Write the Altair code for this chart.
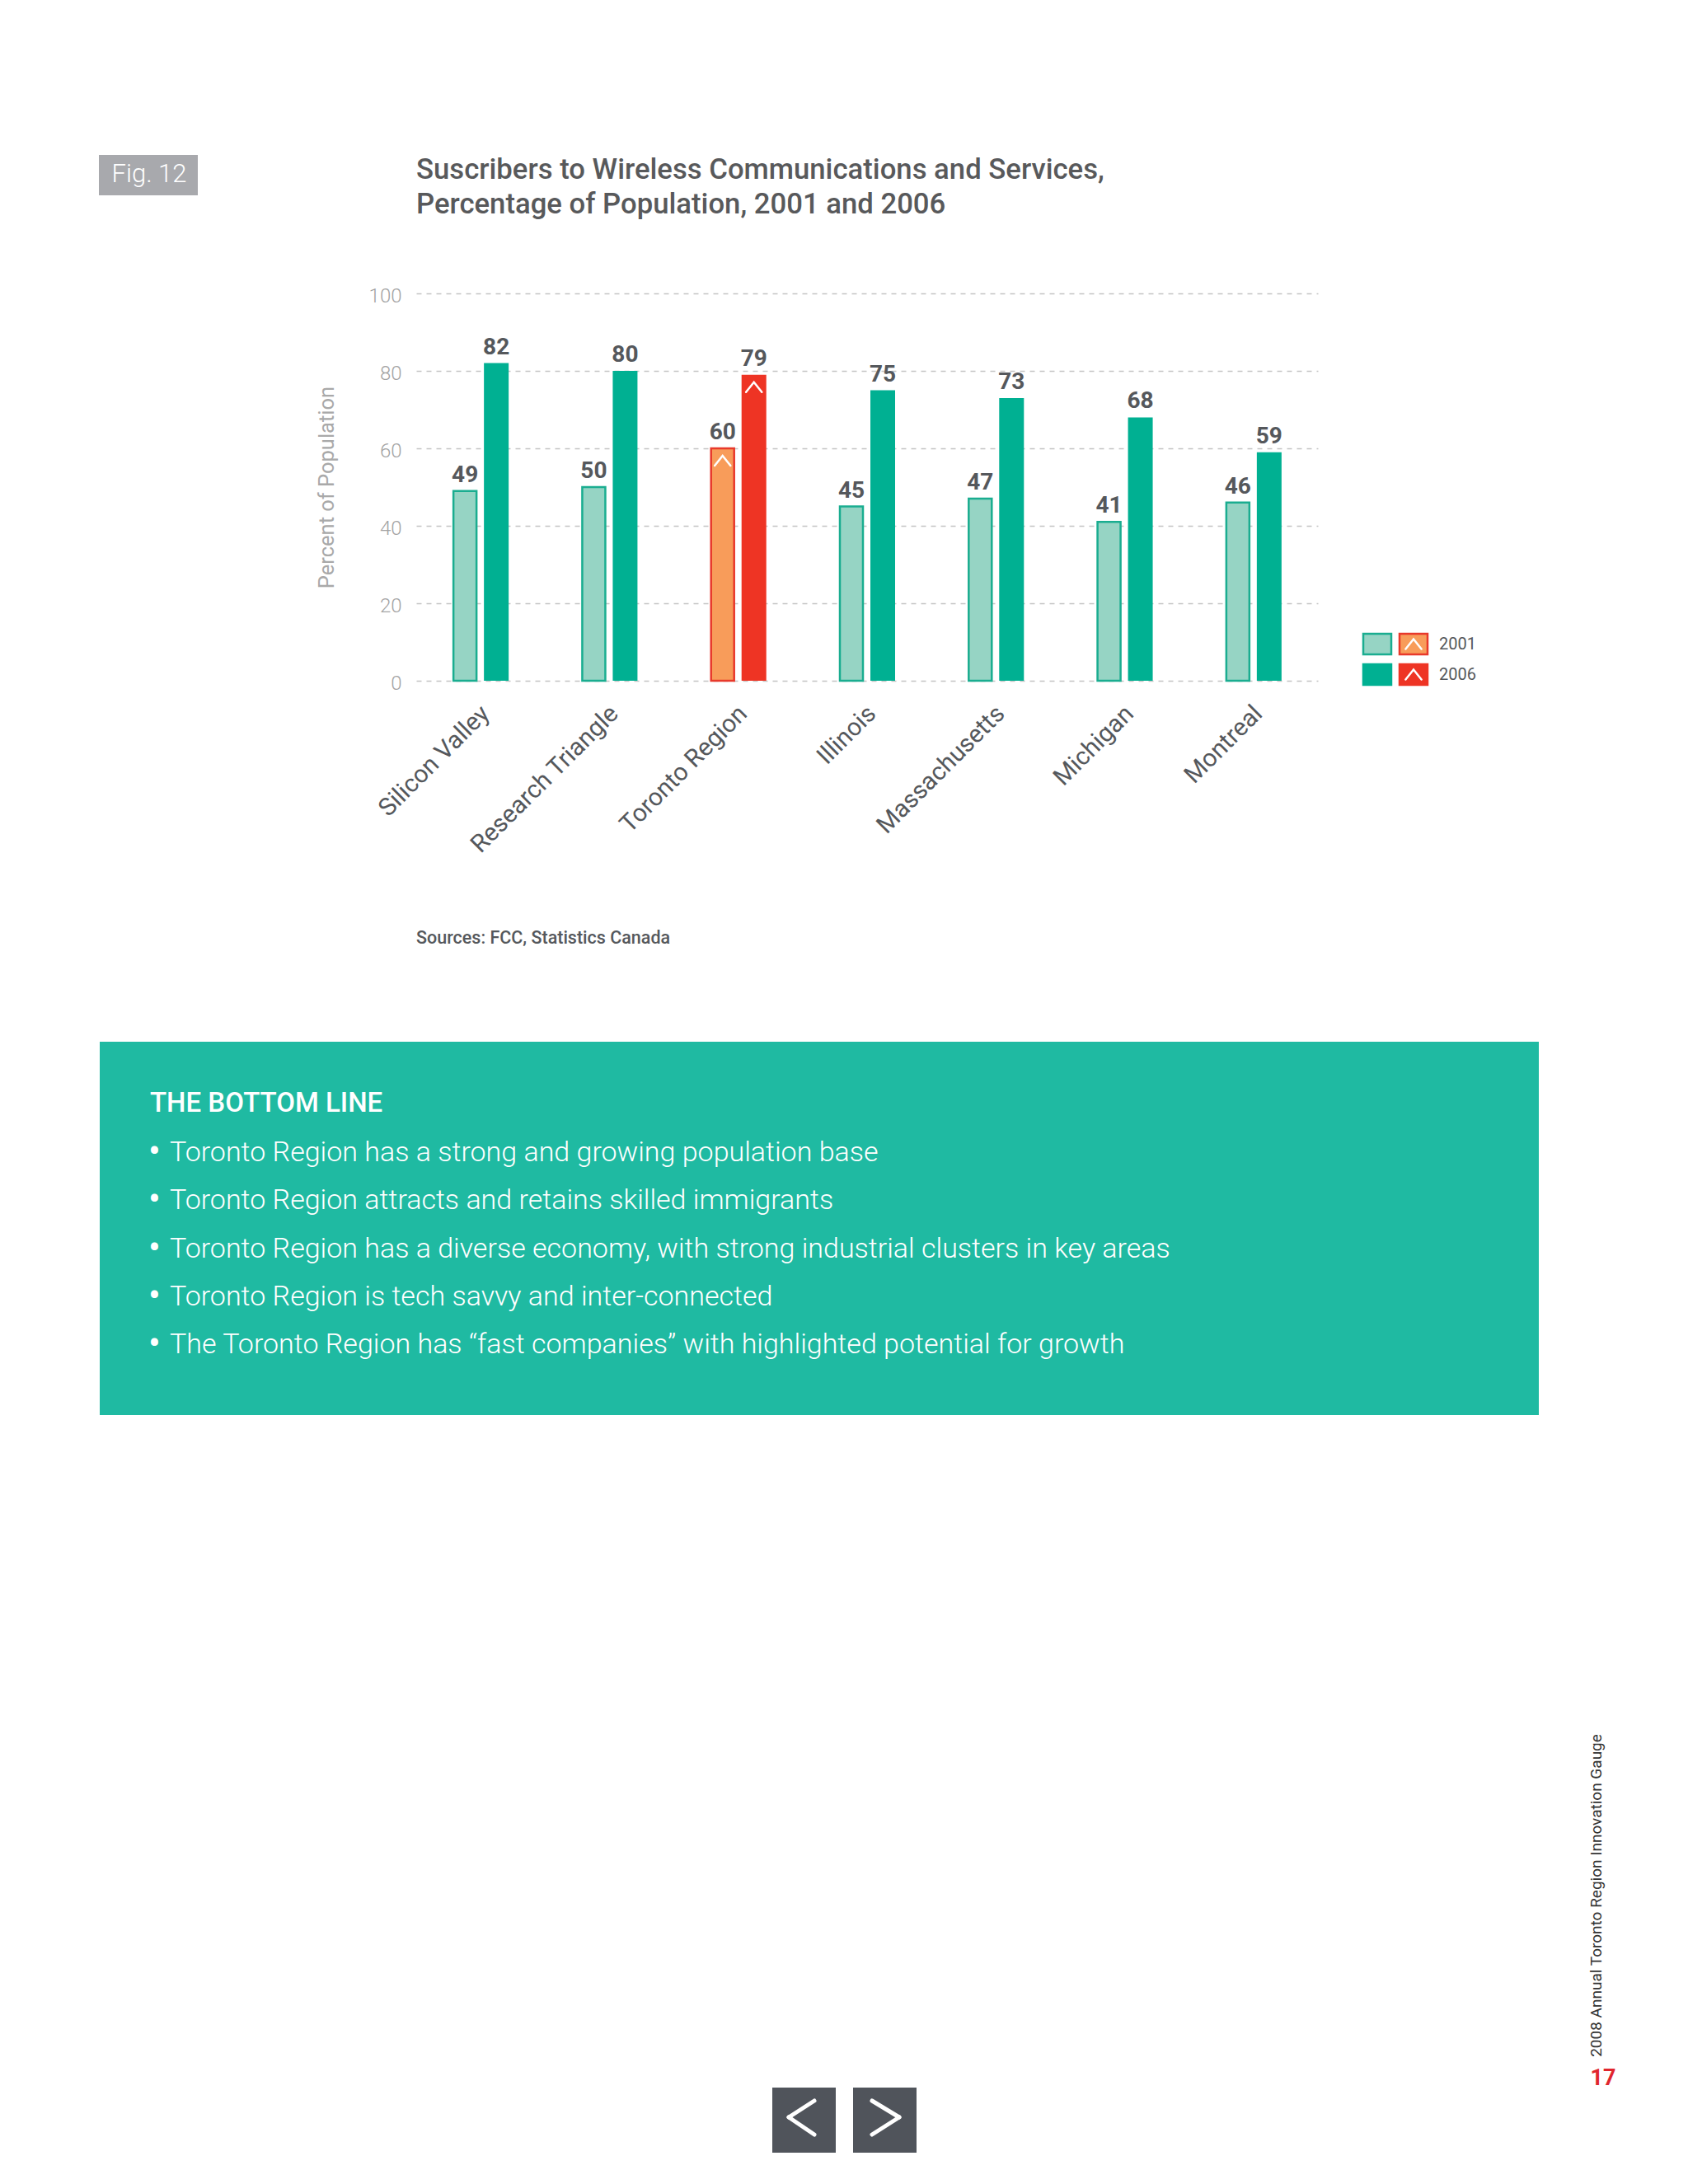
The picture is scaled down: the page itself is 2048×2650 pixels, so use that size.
import altair as alt
import pandas as pd

# ---------------- data ----------------
regions = ["Silicon Valley", "Research Triangle", "Toronto Region", "Illinois",
           "Massachusetts", "Michigan", "Montreal"]
values_2001 = [49, 50, 60, 45, 47, 41, 46]
values_2006 = [82, 80, 79, 75, 73, 68, 59]
years = ["2001", "2006"]
highlight_region = "Toronto Region"
y_ticks = [0, 20, 40, 60, 80, 100]

fig_label = "Fig. 12"
title_lines = ["Suscribers to Wireless Communications and Services,",
               "Percentage of Population, 2001 and 2006"]
y_title = "Percent of Population"
source_text = "Sources: FCC, Statistics Canada"
box_heading = "THE BOTTOM LINE"
bullets = [
    "Toronto Region has a strong and growing population base",
    "Toronto Region attracts and retains skilled immigrants",
    "Toronto Region has a diverse economy, with strong industrial clusters in key areas",
    "Toronto Region is tech savvy and inter-connected",
    "The Toronto Region has \u201cfast companies\u201d with highlighted potential for growth",
]
bullet_mark = "\u2022"
footer_text = "2008 Annual Toronto Region Innovation Gauge"
page_number = "17"

# ---------------- colours ----------------
TEAL_LIGHT = "#96d4c4"
TEAL_EDGE = "#1aad90"
TEAL = "#00b092"
ORANGE = "#f89c5a"
RED = "#ee3424"
RED_EDGE = "#e8392b"
TEXT_DARK = "#55585c"
BOX_TEAL = "#1fbaa2"
BTN = "#50545b"

year_style = {"2001": (TEAL_LIGHT, TEAL_EDGE), "2006": (TEAL, TEAL)}
hl_style = {"2001": (ORANGE, RED_EDGE), "2006": (RED, RED)}

rows = []
for i, r in enumerate(regions):
    for yr, vals in zip(years, (values_2001, values_2006)):
        f, s = (hl_style if r == highlight_region else year_style)[yr]
        rows.append({"region": r, "year": yr, "value": vals[i], "fill": f, "stroke": s})
df = pd.DataFrame(rows)
one = pd.DataFrame({"k": [0]})

FONT = "Roboto"
CHEV = "M -0.8 0.5 L 0 -0.5 L 0.8 0.5"
OFF = {"2001": -19, "2006": 19}

x_enc = alt.X("region:N", sort=regions, title=None,
              scale=alt.Scale(type="band", paddingInner=0, paddingOuter=0),
              axis=alt.Axis(labelAngle=-45, labelAlign="right", labelBaseline="middle",
                            labelPadding=35, labelOffset=6, labelFontSize=30,
                            labelColor=TEXT_DARK, labelFont=FONT, labelLimit=500,
                            domain=False, ticks=False, grid=False))
y_enc = alt.Y("value:Q", title=y_title,
              scale=alt.Scale(domain=[0, 100], nice=False, zero=True),
              axis=alt.Axis(values=y_ticks, labelFontSize=24, labelColor="#a3a3a3",
                            labelPadding=18, labelFont=FONT, labelFontWeight=300,
                            labelOffset=3,
                            titleFont=FONT, titleFontSize=25.5, titleColor="#a9a9a9",
                            titleFontWeight="normal", titlePadding=38,
                            domain=False, ticks=False, grid=True, gridDash=[6, 6],
                            gridColor="#c4c4c4", gridWidth=1.5))

base = alt.Chart(df)
layers = []
for yr in years:
    sub = base.transform_filter(alt.datum.year == yr)
    if yr == "2001":
        bar = sub.mark_bar(width=28, xOffset=OFF[yr], strokeWidth=2.5)
    else:
        bar = sub.mark_bar(width=30, xOffset=OFF[yr], strokeWidth=0)
    layers.append(bar.encode(x=x_enc, y=y_enc,
                             fill=alt.Fill("fill:N", scale=None),
                             stroke=alt.Stroke("stroke:N", scale=None)))
    layers.append(sub.mark_text(xOffset=OFF[yr], dy=-11, baseline="alphabetic",
                                fontSize=28, fontWeight="bold", font=FONT,
                                color=TEXT_DARK)
                  .encode(x=x_enc, y=y_enc, text="value:Q"))
    layers.append(base.transform_filter((alt.datum.year == yr) &
                                        (alt.datum.region == highlight_region))
                  .mark_point(shape=CHEV, size=576, filled=False, stroke="white",
                              strokeWidth=2.5, opacity=1, xOffset=OFF[yr], yOffset=15,
                              strokeCap="round")
                  .encode(x=x_enc, y=y_enc))


def rect(x1, x2, y1, y2, color, **kw):
    return alt.Chart(one).mark_rect(color=color, **kw).encode(
        x=alt.value(x1), x2=alt.value(x2), y=alt.value(y1), y2=alt.value(y2))


def txt(x0, y0, text, **kw):
    kw.setdefault("font", FONT)
    return alt.Chart(one).mark_text(**kw).encode(
        x=alt.value(x0), y=alt.value(y0), text=alt.value(text))


def chev(x0, y0):
    return alt.Chart(one).mark_point(shape=CHEV, size=576, filled=False, stroke="white",
                                     strokeWidth=2.5, opacity=1, strokeCap="round").encode(
        x=alt.value(x0), y=alt.value(y0))


def seg(x1, y1, x2, y2):
    return alt.Chart(one).mark_rule(color="white", strokeWidth=5, strokeCap="round").encode(
        x=alt.value(x1), y=alt.value(y1), x2=alt.value(x2), y2=alt.value(y2))


# Fig label box
layers.append(rect(-385, -265, -168, -119, "#a8a9ad"))
layers.append(txt(-324, -144, fig_label, fontSize=31, fontWeight=300, color="white",
                  align="center", baseline="middle"))
# Title
for i, line in enumerate(title_lines):
    layers.append(txt(0, -149 + 42 * i, line, fontSize=34.7, fontWeight=500,
                      color="#58595b", align="left", baseline="middle"))
# Source
layers.append(txt(0, 783, source_text, fontSize=21.5, fontWeight=500, color=TEXT_DARK,
                  align="left", baseline="middle"))

# Legend
leg_rows = [(413, 438, "2001", TEAL_LIGHT, TEAL_EDGE, ORANGE, RED_EDGE),
            (450, 475, "2006", TEAL, TEAL, RED, RED)]
for y1, y2, lab, f1, s1, f2, s2 in leg_rows:
    layers.append(rect(1149, 1183, y1, y2, f1, stroke=s1, strokeWidth=2.5))
    layers.append(rect(1193, 1227, y1, y2, f2, stroke=s2, strokeWidth=2.5))
    layers.append(chev(1210, (y1 + y2) / 2))
    layers.append(txt(1241, (y1 + y2) / 2, lab, fontSize=20, color=TEXT_DARK,
                      align="left", baseline="middle"))

# Bottom-line box
layers.append(rect(-384, 1362, 908, 1361, BOX_TEAL))
layers.append(txt(-323, 983, box_heading, fontSize=33, fontWeight=500, color="white",
                  align="left", baseline="middle"))
for i, b in enumerate(bullets):
    yy = 1043 + 58.3 * i
    layers.append(txt(-325, yy, bullet_mark, fontSize=44, color="white",
                      align="left", baseline="middle"))
    layers.append(txt(-299, yy, b, fontSize=34, fontWeight=300, color="white",
                      align="left", baseline="middle"))

# Footer
layers.append(txt(1432, 1944, footer_text, fontSize=19, color="#333333", angle=270,
                  align="center", baseline="middle"))
layers.append(txt(1440, 2166, page_number, fontSize=27, fontWeight="bold", color="#e0262e",
                  align="center", baseline="middle"))

# Navigation buttons
layers.append(rect(432, 509, 2177, 2256, BTN))
layers.append(rect(530, 607, 2177, 2256, BTN))
layers.append(seg(483, 2193, 452, 2213))
layers.append(seg(452, 2213, 483, 2234))
layers.append(seg(553, 2193, 586, 2213))
layers.append(seg(586, 2213, 553, 2234))

chart = alt.layer(*layers).properties(
    width=1094, height=470,
    padding={"left": 497, "top": 348, "right": 441, "bottom": 1816},
    autosize=alt.AutoSizeParams(type="none"),
    background="white",
).configure_view(stroke=None)

chart.save("out.html", embed_options={"renderer": "svg", "actions": False})
